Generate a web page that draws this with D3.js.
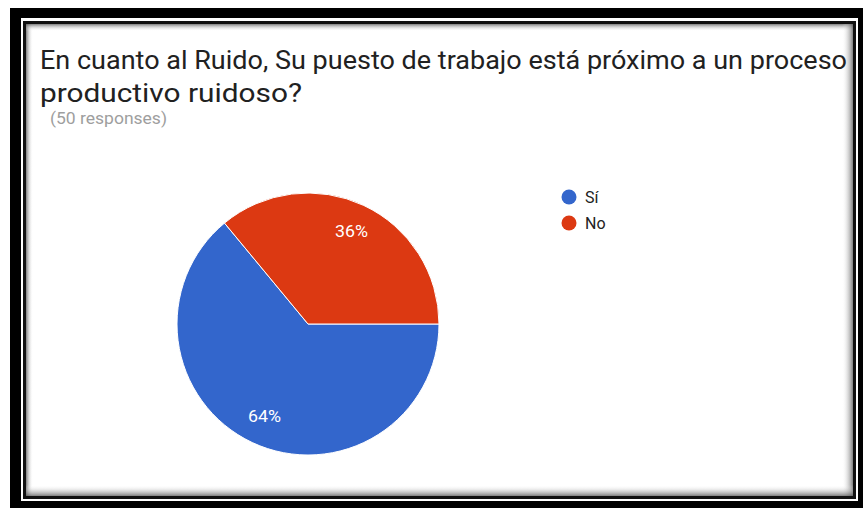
<!DOCTYPE html>
<html lang="es">
  <head>
    <meta charset="utf-8">
    <title>En cuanto al Ruido</title>
    <style>
      body {
        margin: 0;
        background: #fff;
      }
      svg {
        display: block;
        font-family: Roboto, Arial, sans-serif;
      }
    </style>
  </head>
  <body>
    <svg id="chart" width="863" height="510"></svg>

    <script src="https://d3js.org/d3.v7.min.js"></script>
    <script>
      // data
      const labels = ["Sí", "No"];
      const values = [32, 18];
      const colors = ["#3366cc", "#dc3912"];
      const titleLines = [
        "En cuanto al Ruido, Su puesto de trabajo está próximo a un proceso",
        "productivo ruidoso?"
      ];
      const subtitle = "(50 responses)";

      const svg = d3.select("#chart");
      const defs = svg.append("defs");

      // frame: thick black border, thin white gap, dark line, inset shadow
      svg.append("rect").attr("x", 10).attr("y", 8).attr("width", 870).attr("height", 500).attr("fill", "#000");
      svg.append("rect").attr("x", 21).attr("y", 18).attr("width", 837).attr("height", 483).attr("fill", "#fff");
      svg.append("rect").attr("x", 23).attr("y", 21).attr("width", 833).attr("height", 478).attr("fill", "#111");
      svg.append("rect").attr("x", 26).attr("y", 24).attr("width", 827).attr("height", 472).attr("fill", "#fff");

      const shade = (id, x1, y1, x2, y2) => {
        const gr = defs.append("linearGradient").attr("id", id)
          .attr("x1", x1).attr("y1", y1).attr("x2", x2).attr("y2", y2);
        gr.append("stop").attr("offset", "0%").attr("stop-color", "#555").attr("stop-opacity", 0.75);
        gr.append("stop").attr("offset", "100%").attr("stop-color", "#fff").attr("stop-opacity", 0);
      };
      shade("sl", 0, 0, 1, 0);
      shade("st", 0, 0, 0, 1);
      shade("sr", 1, 0, 0, 0);
      shade("sb", 0, 1, 0, 0);
      svg.append("rect").attr("x", 26).attr("y", 24).attr("width", 7).attr("height", 472).attr("fill", "url(#sl)");
      svg.append("rect").attr("x", 26).attr("y", 24).attr("width", 827).attr("height", 7).attr("fill", "url(#st)");
      svg.append("rect").attr("x", 842).attr("y", 24).attr("width", 11).attr("height", 472).attr("fill", "url(#sr)");
      svg.append("rect").attr("x", 26).attr("y", 485).attr("width", 827).attr("height", 11).attr("fill", "url(#sb)");

      // title (the screenshot is a little stretched sideways)
      const titleWidths = [807, 262];
      svg.append("g").selectAll("text").data(titleLines).join("text")
        .attr("x", 40)
        .attr("y", (d, i) => 69 + i * 33)
        .attr("font-size", 25)
        .attr("fill", "#212121")
        .attr("textLength", (d, i) => titleWidths[i])
        .attr("lengthAdjust", "spacingAndGlyphs")
        .text(d => d);

      svg.append("text")
        .attr("x", 50)
        .attr("y", 124)
        .attr("font-size", 16)
        .attr("fill", "#9e9e9e")
        .attr("textLength", 117)
        .attr("lengthAdjust", "spacingAndGlyphs")
        .text(subtitle);

      // pie
      const cx = 308, cy = 324, r = 131;
      const total = d3.sum(values);
      const data = labels.map((l, i) => ({label: l, value: values[i]}));

      const pie = d3.pie().sort(null).value(d => d.value)
        .startAngle(Math.PI / 2).endAngle(Math.PI / 2 + 2 * Math.PI);
      const arc = d3.arc().innerRadius(0).outerRadius(r);
      const labelArc = d3.arc().innerRadius(r * 0.78).outerRadius(r * 0.78);
      const color = d3.scaleOrdinal().domain(labels).range(colors);

      const g = svg.append("g").attr("transform", `translate(${cx},${cy})`);
      const arcs = pie(data);

      g.selectAll("path").data(arcs).join("path")
        .attr("d", arc)
        .attr("fill", d => color(d.data.label))
        .attr("stroke", "#fff")
        .attr("stroke-width", 1);

      g.selectAll("text").data(arcs).join("text")
        .attr("transform", d => `translate(${labelArc.centroid(d)})`)
        .attr("text-anchor", "middle")
        .attr("dy", "0.35em")
        .attr("font-size", 16)
        .attr("fill", "#fff")
        .attr("textLength", 33)
        .attr("lengthAdjust", "spacingAndGlyphs")
        .text(d => d3.format(".0%")(d.data.value / total));

      // legend
      const legend = svg.append("g").attr("transform", "translate(569,197)");
      const item = legend.selectAll("g").data(labels).join("g")
        .attr("transform", (d, i) => `translate(0,${i * 26})`);
      item.append("circle").attr("r", 7.5).attr("fill", d => color(d));
      item.append("text")
        .attr("x", 16)
        .attr("dy", "0.35em")
        .attr("font-size", 16)
        .attr("fill", "#222")
        .text(d => d);
    </script>
  </body>
</html>
